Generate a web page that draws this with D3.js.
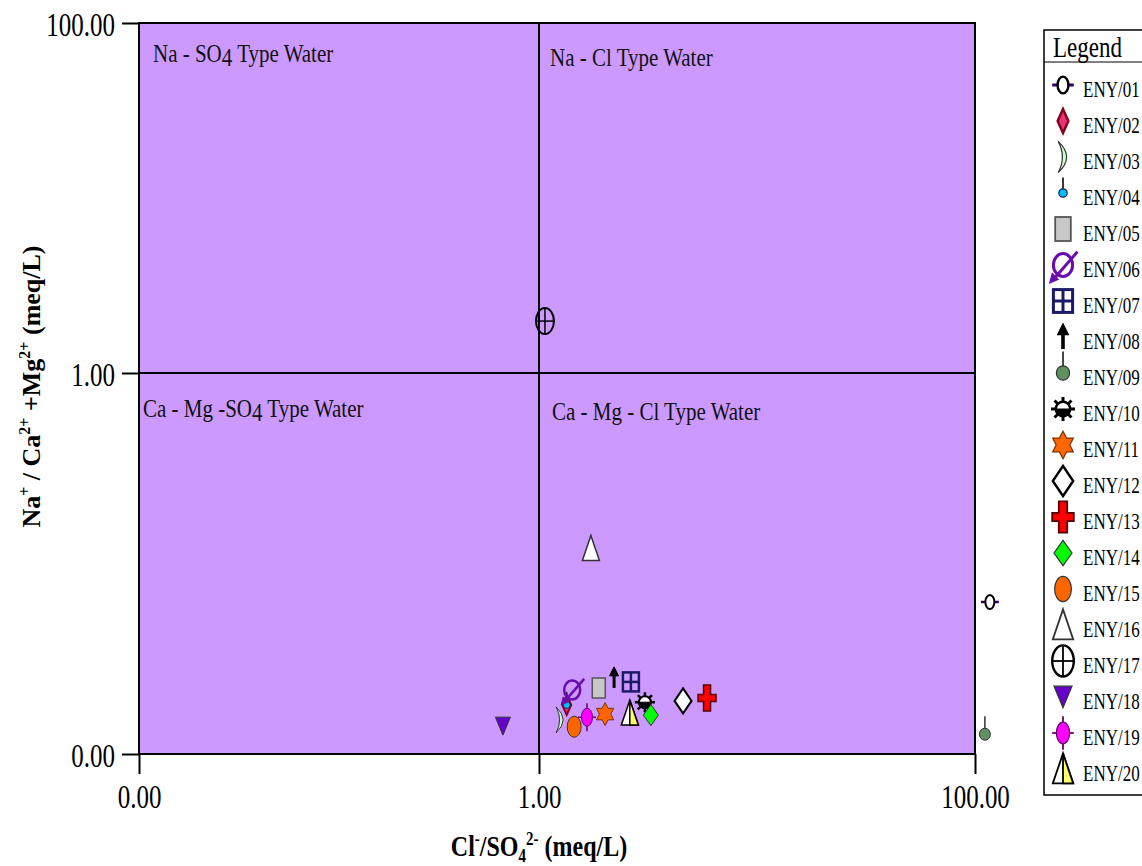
<!DOCTYPE html>
<html>
<head>
<meta charset="utf-8">
<script src="https://cdn.jsdelivr.net/npm/d3@7"></script>
<style>
  html, body { margin: 0; padding: 0; background: #fff; }
  svg { display: block; font-family: "Liberation Serif", "Times New Roman", serif; }
</style>
</head>
<body>
<svg width="1142" height="866"></svg>
<script>
// sample ids and the two ratios
const samples = ['ENY/01', 'ENY/02', 'ENY/03', 'ENY/04', 'ENY/05', 'ENY/06', 'ENY/07', 'ENY/08', 'ENY/09', 'ENY/10',
  'ENY/11', 'ENY/12', 'ENY/13', 'ENY/14', 'ENY/15', 'ENY/16', 'ENY/17', 'ENY/18', 'ENY/19', 'ENY/20']
const clSo4 = [117, 1.34, 1.25, 1.34, 1.88, 1.42, 2.64, 2.21, 111, 3.06,
  2.01, 4.58, 5.9, 3.26, 1.45, 1.73, 1.065, 0.66, 1.66, 2.61]
const cationRatio = [0.0628, 0.0181, 0.0151, 0.0181, 0.0222, 0.0217, 0.0239, 0.0251, 0.0127, 0.0187,
  0.0162, 0.019, 0.0197, 0.016, 0.0139, 0.12, 1.98, 0.014, 0.0156, 0.0164]

const tickValues = [0.01, 1, 100]
const tickLabels = ['0.00', '1.00', '100.00']
const quadrantLabels = ['Na - SO4 Type Water', 'Na - Cl Type Water', 'Ca - Mg -SO4 Type Water', 'Ca - Mg - Cl Type Water']

const svg = d3.select('svg')

// piecewise log scales, the chart's decades are not evenly spaced
const x = d3.scaleLog().domain([0.01, 1, 100]).range([139, 539, 975])
const y = d3.scaleLog().domain([0.01, 1, 100]).range([754, 373, 23])

svg.append('rect')
  .attr('x', x(0.01)).attr('y', y(100))
  .attr('width', x(100) - x(0.01)).attr('height', y(0.01) - y(100))
  .attr('fill', '#cc99ff')
  .attr('stroke', '#000').attr('stroke-width', 2)

// divider lines at 1.00
svg.append('line')
  .attr('x1', x(1)).attr('x2', x(1)).attr('y1', y(100)).attr('y2', y(0.01))
  .attr('stroke', '#000').attr('stroke-width', 2)
svg.append('line')
  .attr('x1', x(0.01)).attr('x2', x(100)).attr('y1', y(1)).attr('y2', y(1))
  .attr('stroke', '#000').attr('stroke-width', 2)

const yAxis = svg.append('g')
  .attr('transform', `translate(${x(0.01)},0)`)
  .call(d3.axisLeft(y).tickValues(tickValues).tickSize(17).tickFormat((d, i) => tickLabels[i]))
const xAxis = svg.append('g')
  .attr('transform', `translate(0,${y(0.01)})`)
  .call(d3.axisBottom(x).tickValues(tickValues).tickSize(20).tickFormat((d, i) => tickLabels[i]))

;[yAxis, xAxis].forEach(ax => {
  ax.select('.domain').remove()
  ax.selectAll('.tick line').attr('stroke', '#000').attr('stroke-width', 2)
  ax.selectAll('.tick text').attr('font-family', 'Liberation Serif').attr('font-size', 25).attr('fill', '#000')
})
yAxis.selectAll('.tick text')
  .attr('x', 0).attr('dy', null).attr('y', 0)
  .attr('text-anchor', 'end')
  .attr('transform', 'translate(-24,12) scale(1,1.35)')
xAxis.selectAll('.tick text')
  .attr('y', 0).attr('dy', null)
  .attr('transform', 'translate(0,54) scale(1,1.35)')

// quadrant names
const qPos = [
  [x(0.01) + 14, y(100) + 39],
  [x(1) + 11, y(100) + 43],
  [x(0.01) + 4, y(1) + 44],
  [x(1) + 13, y(1) + 47]
]
quadrantLabels.forEach((t, i) => {
  const txt = svg.append('text')
    .attr('transform', `translate(${qPos[i][0]},${qPos[i][1]}) scale(1,1.22)`)
    .attr('font-size', 21).attr('fill', '#111')
  const parts = t.split('SO4')
  if (parts.length > 1) {
    txt.append('tspan').text(parts[0] + 'SO')
    txt.append('tspan').attr('dy', 3).text('4')
    txt.append('tspan').attr('dy', -3).text(parts[1])
  } else {
    txt.text(t)
  }
})

// axis titles
const yTitle = svg.append('text')
  .attr('transform', `translate(40,${(y(100) + y(0.01)) / 2 - 2}) rotate(-90)`)
  .attr('text-anchor', 'middle')
  .attr('font-size', 26).attr('font-weight', 'bold')
yTitle.append('tspan').text('Na')
yTitle.append('tspan').attr('dy', -10).attr('font-size', 16).text('+')
yTitle.append('tspan').attr('dy', 10).text(' / Ca')
yTitle.append('tspan').attr('dy', -10).attr('font-size', 16).text('2+')
yTitle.append('tspan').attr('dy', 10).text(' +Mg')
yTitle.append('tspan').attr('dy', -10).attr('font-size', 16).text('2+')
yTitle.append('tspan').attr('dy', 10).text(' (meq/L)')

const xTitle = svg.append('text')
  .attr('transform', `translate(${x(1)},856) scale(1,1.2)`)
  .attr('text-anchor', 'middle')
  .attr('font-size', 24).attr('font-weight', 'bold')
xTitle.append('tspan').text('Cl')
xTitle.append('tspan').attr('dy', -9).attr('font-size', 15).text('-')
xTitle.append('tspan').attr('dy', 9).text('/SO')
xTitle.append('tspan').attr('dy', 5).attr('font-size', 15).text('4')
xTitle.append('tspan').attr('dy', -14).attr('font-size', 15).text('2-')
xTitle.append('tspan').attr('dy', 9).text(' (meq/L)')

// marker shapes, one per sample
const ln = (g, x1, y1, x2, y2, c, w) => g.append('line')
  .attr('x1', x1).attr('y1', y1).attr('x2', x2).attr('y2', y2).attr('stroke', c).attr('stroke-width', w)
const pth = (g, d, fill, stroke, w) => g.append('path').attr('d', d).attr('fill', fill).attr('stroke', stroke).attr('stroke-width', w)
const ell = (g, rx, ry, fill, stroke, w) => g.append('ellipse').attr('rx', rx).attr('ry', ry).attr('fill', fill).attr('stroke', stroke).attr('stroke-width', w)

const markers = [
  g => { ln(g, -9, 0, 9, 0, '#330066', 2.5); ell(g, 4.5, 7, '#fff', '#000', 2) },
  g => { pth(g, 'M0,-10L4.5,0L0,10L-4.5,0Z', '#e8336e', '#800020', 2) },
  g => { pth(g, 'M-4,-13Q10,0 -4,13Q3,0 -4,-13Z', '#ccffcc', '#333', 1) },
  g => { ln(g, 0, -13, 0, -3, '#222', 1.5); g.append('circle').attr('r', 3.5).attr('fill', '#00bfff').attr('stroke', '#224') },
  g => { g.append('rect').attr('x', -6.5).attr('y', -10).attr('width', 13).attr('height', 20).attr('fill', '#c8c8c8').attr('stroke', '#555').attr('stroke-width', 1.5) },
  g => {
    ell(g, 8, 9.5, 'none', '#6a0dad', 2.5)
    ln(g, -8, 12, 12, -11, '#6a0dad', 2.5)
    pth(g, 'M-11,15L-9,7L-4,12Z', '#6a0dad', '#6a0dad', 1)
  },
  g => {
    g.append('rect').attr('x', -8).attr('y', -9.5).attr('width', 16).attr('height', 19).attr('fill', 'none').attr('stroke', '#1a1a66').attr('stroke-width', 2.5)
    ln(g, 0, -9.5, 0, 9.5, '#1a1a66', 2.5); ln(g, -8, 0, 8, 0, '#1a1a66', 2.5)
  },
  g => { ln(g, 0, 10, 0, -3, '#000', 3); pth(g, 'M0,-11L-4.5,-2L4.5,-2Z', '#000', '#000', 1) },
  g => { ln(g, 0, -18, 0, -5, '#333', 1.5); ell(g, 5.5, 6, '#5f9060', '#333', 1) },
  g => {
    for (let k = 0; k < 8; k++) {
      const a = k * Math.PI / 4
      ln(g, 0, 0, 10 * Math.cos(a), 10 * Math.sin(a), '#000', 2.5)
    }
    g.append('circle').attr('r', 6).attr('fill', '#fff').attr('stroke', '#000').attr('stroke-width', 2)
    pth(g, 'M-6,0A6,6 0 0,0 6,0Z', '#000', '#000', 1)
  },
  g => {
    pth(g, 'M0,-11.5L3,-5.75L8.6,-5.75L5.7,0L8.6,5.75L3,5.75L0,11.5L-3,5.75L-8.6,5.75L-5.7,0L-8.6,-5.75L-3,-5.75Z', '#ff6600', '#7a3300', 1)
  },
  g => { pth(g, 'M0,-12.5L8.5,0L0,12.5L-8.5,0Z', '#fff', '#000', 2) },
  g => { pth(g, 'M-3.5,-13H3.5V-3.5H9V3.5H3.5V13H-3.5V3.5H-9V-3.5H-3.5Z', '#ff0000', '#550000', 1.5) },
  g => { pth(g, 'M0,-10.5L7.5,0L0,10.5L-7.5,0Z', '#00ff00', '#333', 1) },
  g => { ell(g, 7, 10.5, '#ff6600', '#333', 1) },
  g => { pth(g, 'M0,-13L8.5,12L-8.5,12Z', '#fff', '#333', 1.5) },
  g => {
    ell(g, 9, 13, 'none', '#000', 2)
    ln(g, 0, -13, 0, 13, '#000', 1.5); ln(g, -9, 0, 9, 0, '#000', 1.5)
  },
  g => { pth(g, 'M-7.5,-9L7.5,-9L0,9Z', '#6600cc', '#333', 1) },
  g => {
    ln(g, 0, -14, 0, 14, '#660066', 1.5); ln(g, -9, 0, 9, 0, '#660066', 1.5)
    ell(g, 5.5, 9, '#ff00ff', '#660066', 1)
  },
  g => {
    pth(g, 'M0,-13L8.5,12L-8.5,12Z', '#fff', '#000', 1.5)
    pth(g, 'M0,-13L8.5,12L0,12Z', '#ffff66', '#000', 1.5)
  }
]

// data points
samples.forEach((s, i) => {
  const g = svg.append('g').attr('transform', `translate(${x(clSo4[i])},${y(cationRatio[i])})`)
  markers[i](g)
})

// legend box, runs past the right edge as in the original
const legend = svg.append('g')
legend.append('rect')
  .attr('x', 1044).attr('y', 30).attr('width', 120).attr('height', 765)
  .attr('fill', '#fff').attr('stroke', '#000').attr('stroke-width', 1.5)
legend.append('line').attr('x1', 1044).attr('x2', 1142).attr('y1', 62).attr('y2', 62)
  .attr('stroke', '#000').attr('stroke-width', 1)
legend.append('text')
  .attr('transform', 'translate(1053,57) scale(1,1.25)')
  .attr('font-size', 23).text('Legend')

samples.forEach((s, i) => {
  const rowY = 88 + i * 36
  const g = legend.append('g').attr('transform', `translate(1063,${rowY - 3}) scale(1.2)`)
  markers[i](g)
  legend.append('text')
    .attr('transform', `translate(1083,${rowY + 9}) scale(1,1.3)`)
    .attr('font-size', 17).text(s)
})
</script>
</body>
</html>
